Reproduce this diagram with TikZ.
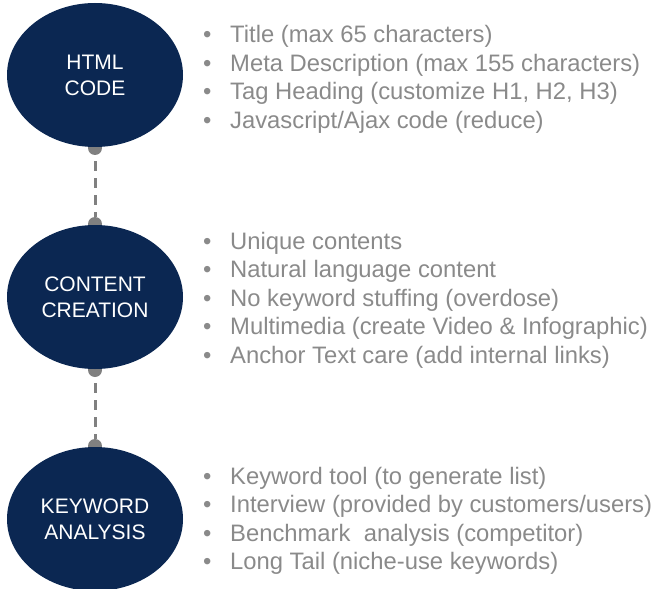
\documentclass[tikz,border=0pt]{standalone}
\usepackage{fontspec}
\setmainfont{Liberation Sans}
\usetikzlibrary{shapes.geometric}
\definecolor{navy}{HTML}{0B2752}
\definecolor{txtgray}{HTML}{8A8A8A}
\definecolor{dotgray}{HTML}{808080}
\tikzset{
  stage/.style={ellipse, fill=navy, draw=none, inner sep=0pt, minimum width=176pt, minimum height=144pt,
    text=white, align=center, font=\fontsize{21}{26}\selectfont},
  knob/.style={circle, fill=dotgray, draw=none, inner sep=0pt, minimum size=14pt},
  conn/.style={draw=dotgray, line width=3pt, dash pattern=on 10pt off 7pt, dash phase=11pt},
  item/.style={anchor=base west, inner sep=0pt, text=txtgray, font=\fontsize{23.8}{28}\selectfont}
}
\newcommand{\bul}{\makebox[27pt][l]{\textbullet}}
\begin{document}
\begin{tikzpicture}[x=1pt,y=-1pt]
\useasboundingbox (0,0) rectangle (660,588);
% knobs
\node[knob] (k1b) at (95,148) {};
\node[knob] (k2t) at (95,224) {};
\node[knob] (k2b) at (95,370) {};
\node[knob] (k3t) at (95,446) {};
% connectors
\draw[conn] (k1b) -- (k2t);
\draw[conn] (k2b) -- (k3t);
% stages
\node[stage] (s1) at (95,75) {HTML\\CODE};
\node[stage] (s2) at (95,297) {CONTENT\\CREATION};
\node[stage] (s3) at (95,519) {KEYWORD\\ANALYSIS};
% block 1
\node[item] (a1) at (203,43) {\bul Title (max 65 characters)};
\node[item] (a2) at (203,71.5) {\bul Meta Description (max 155 characters)};
\node[item] (a3) at (203,100) {\bul Tag Heading (customize H1, H2, H3)};
\node[item] (a4) at (203,128.5) {\bul Javascript/Ajax code (reduce)};
% block 2
\node[item] (b1) at (203,249) {\bul Unique contents};
\node[item] (b2) at (203,277.5) {\bul Natural language content};
\node[item] (b3) at (203,306) {\bul No keyword stuffing (overdose)};
\node[item] (b4) at (203,334.5) {\bul Multimedia (create Video \& Infographic)};
\node[item] (b5) at (203,363) {\bul Anchor Text care (add internal links)};
% block 3
\node[item] (c1) at (203,484) {\bul Keyword tool (to generate list)};
\node[item] (c2) at (203,512.5) {\bul Interview (provided by customers/users)};
\node[item] (c3) at (203,541) {\bul Benchmark\ \ analysis (competitor)};
\node[item] (c4) at (203,569.5) {\bul Long Tail (niche-use keywords)};
\end{tikzpicture}
\end{document}
